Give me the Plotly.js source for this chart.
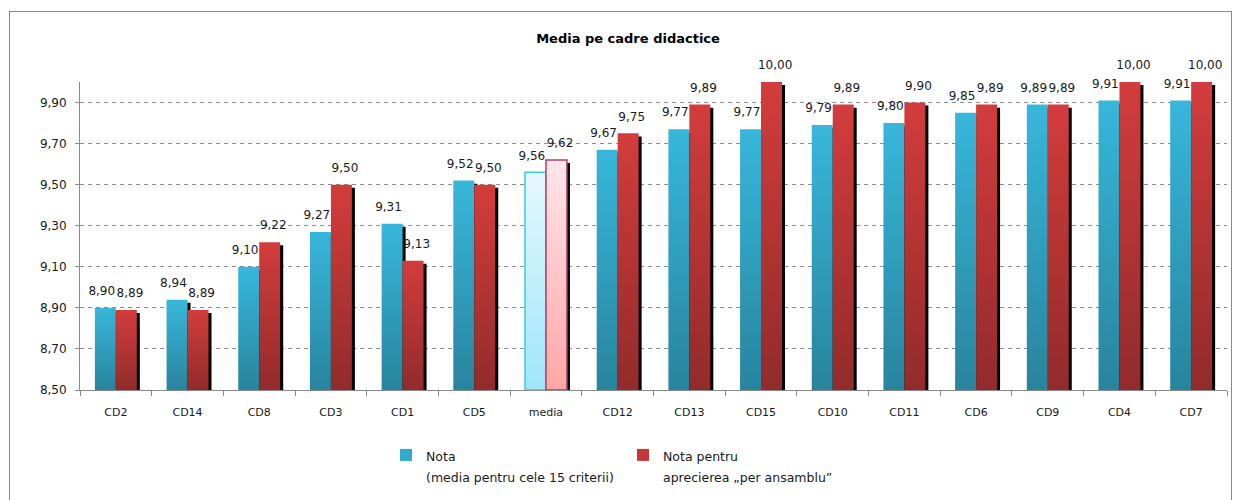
<!DOCTYPE html>
<html>
<head>
<meta charset="utf-8">
<script src="https://cdn.plot.ly/plotly-3.0.1.min.js"></script>
<style>
  html, body { margin: 0; padding: 0; background: #fff; }
  #chart { width: 1234px; height: 500px; }
  #frame { position: absolute; left: 9px; top: 11px; width: 1221px; height: 495px; border: 1px solid #8a8a8a; pointer-events: none; }
</style>
</head>
<body>
<div id="chart"></div>
<div id="frame"></div>
<script>
// ---- data ----
const categories = ["CD2","CD14","CD8","CD3","CD1","CD5","media","CD12","CD13","CD15","CD10","CD11","CD6","CD9","CD4","CD7"];
const nota = [8.90, 8.94, 9.10, 9.27, 9.31, 9.52, 9.56, 9.67, 9.77, 9.77, 9.79, 9.80, 9.85, 9.89, 9.91, 9.91];
const notaAnsamblu = [8.89, 8.89, 9.22, 9.50, 9.13, 9.50, 9.62, 9.75, 9.89, 10.00, 9.89, 9.90, 9.89, 9.89, 10.00, 10.00];
const seriesNames = ["Nota", "(media pentru cele 15 criterii)", "Nota pentru", "aprecierea „per ansamblu”"];
const yTickVals = [8.5, 8.7, 8.9, 9.1, 9.3, 9.5, 9.7, 9.9];
const chartTitle = "Media pe cadre didactice";

// ---- styling ----
const Y0 = 8.5;
const fmt = v => v.toFixed(2).replace('.', ',');
const BW = 0.2925;      // bar width in category units
const SH = 0.042;       // shadow offset (x, category units)
const SHY = 0.015;      // shadow drop (y units)
const LBL = 0.05;       // label side shift (category units)
const mediaIdx = categories.indexOf("media");
const idx = categories.map((c, i) => i);
const blueColors = categories.map((c, i) => i === mediaIdx ? "#c4eff9" : "#33a9cc");
const redColors = categories.map((c, i) => i === mediaIdx ? "#ffc8cc" : "#c43838");
const blueLine = categories.map((c, i) => i === mediaIdx ? "#3ccbd6" : "rgba(0,0,0,0)");
const redLine = categories.map((c, i) => i === mediaIdx ? "#b0406a" : "rgba(0,0,0,0)");
const lineW = categories.map((c, i) => i === mediaIdx ? 1.5 : 0);
const labelFont = { family: "DejaVu Sans", size: 12, color: "#1a1a1a" };
const legSpan = s => '<span style="font-size:12.5px">' + s + '</span>';

const traces = [
  { type: "bar", x: categories, y: nota.map(v => v - SHY - Y0), base: Y0, offset: -BW + SH, width: BW,
    marker: { color: "#000" }, showlegend: false, hoverinfo: "skip" },
  { type: "bar", name: legSpan(seriesNames[0]) + "<br>" + legSpan(seriesNames[1]),
    x: categories, y: nota.map(v => v - Y0), base: Y0, offset: -BW, width: BW,
    marker: { color: blueColors, line: { color: blueLine, width: lineW } } },
  { type: "bar", x: categories, y: notaAnsamblu.map(v => v - SHY - Y0), base: Y0, offset: SH, width: BW,
    marker: { color: "#000" }, showlegend: false, hoverinfo: "skip" },
  { type: "bar", name: legSpan(seriesNames[2]) + "<br>" + legSpan(seriesNames[3]),
    x: categories, y: notaAnsamblu.map(v => v - Y0), base: Y0, offset: 0, width: BW,
    marker: { color: redColors, line: { color: redLine, width: lineW } } },
  // data labels on an overlaid numeric axis aligned with the categories
  { type: "scatter", mode: "markers+text", xaxis: "x2", x: idx.map(i => i - BW / 2 - LBL), y: nota,
    text: nota.map(fmt), textposition: "top center", textfont: labelFont,
    marker: { size: 14, opacity: 0 }, cliponaxis: false, showlegend: false, hoverinfo: "skip" },
  { type: "scatter", mode: "markers+text", xaxis: "x2", x: idx.map(i => i + BW / 2 + LBL), y: notaAnsamblu,
    text: notaAnsamblu.map(fmt), textposition: "top center", textfont: labelFont,
    marker: { size: 14, opacity: 0 }, cliponaxis: false, showlegend: false, hoverinfo: "skip" }
];

const layout = {
  width: 1234, height: 500,
  margin: { l: 80, r: 7, t: 82, b: 110 },
  paper_bgcolor: "#fff", plot_bgcolor: "#fff",
  font: { family: "DejaVu Sans", color: "#1a1a1a" },
  barmode: "overlay",
  title: { text: chartTitle, font: { family: "DejaVu Sans", size: 13, color: "#000", weight: "bold" },
           x: 628 / 1234, xref: "container", xanchor: "center", y: 1 - 38 / 500, yref: "container", yanchor: "middle" },
  xaxis: {
    type: "category", range: [-0.5, categories.length - 0.5], showgrid: false, showline: true, linecolor: "#8a8a8a", linewidth: 1,
    ticks: "outside", tickson: "boundaries", ticklen: 5, tickcolor: "#8a8a8a",
    tickfont: { family: "DejaVu Sans", size: 11, color: "#1a1a1a" }, ticklabelstandoff: 12,
    zeroline: false
  },
  xaxis2: { overlaying: "x", range: [-0.5, categories.length - 0.5], visible: false, showgrid: false, zeroline: false },
  yaxis: {
    range: [8.5, 10.0], tickvals: yTickVals, ticktext: yTickVals.map(fmt),
    showgrid: true, gridcolor: "#8c8c8c", griddash: "4px,4px", gridwidth: 1,
    showline: true, linecolor: "#8a8a8a", linewidth: 1,
    ticks: "outside", ticklen: 4, tickcolor: "#8a8a8a",
    tickfont: { family: "DejaVu Sans", size: 12, color: "#1a1a1a" }, ticklabelstandoff: 6,
    zeroline: false
  },
  showlegend: true,
  legend: {
    orientation: "h", x: (386 - 80) / 1147, xanchor: "left", y: 1 - 438 / 500, yref: "container", yanchor: "top",
    font: { family: "DejaVu Sans", size: 16, color: "#1a1a1a" }, valign: "top",
    entrywidth: 192, entrywidthmode: "pixels", bgcolor: "rgba(0,0,0,0)", borderwidth: 0
  },
  hovermode: false
};

Plotly.newPlot("chart", traces, layout, { displayModeBar: false, staticPlot: true }).then(gd => {
  // vertical gradients on the bars
  const svg = gd.querySelector(".main-svg");
  const NS = "http://www.w3.org/2000/svg";
  let defs = svg.querySelector("defs");
  if (!defs) { defs = document.createElementNS(NS, "defs"); svg.insertBefore(defs, svg.firstChild); }
  const addGrad = (id, top, bottom) => {
    const g = document.createElementNS(NS, "linearGradient");
    g.setAttribute("id", id); g.setAttribute("x1", "0"); g.setAttribute("y1", "0");
    g.setAttribute("x2", "0"); g.setAttribute("y2", "1");
    [[0, top], [1, bottom]].forEach(([o, c]) => {
      const s = document.createElementNS(NS, "stop");
      s.setAttribute("offset", o); s.setAttribute("stop-color", c); g.appendChild(s);
    });
    defs.appendChild(g);
  };
  addGrad("gBlue", "#37b7db", "#28849d");
  addGrad("gRed", "#d33c3c", "#922b2b");
  addGrad("gBlueM", "#e4f8fd", "#9fe6f9");
  addGrad("gRedM", "#ffe6ea", "#ffa6a6");
  const groups = svg.querySelectorAll(".barlayer .trace");
  const apply = (gi, normal, med) => {
    const g = groups[gi]; if (!g) return;
    g.querySelectorAll(".point").forEach((p, i) => {
      const path = p.querySelector("path");
      if (path) path.style.fill = "url(#" + (i === mediaIdx ? med : normal) + ")";
    });
  };
  apply(1, "gBlue", "gBlueM");
  apply(3, "gRed", "gRedM");
});
</script>
</body>
</html>
